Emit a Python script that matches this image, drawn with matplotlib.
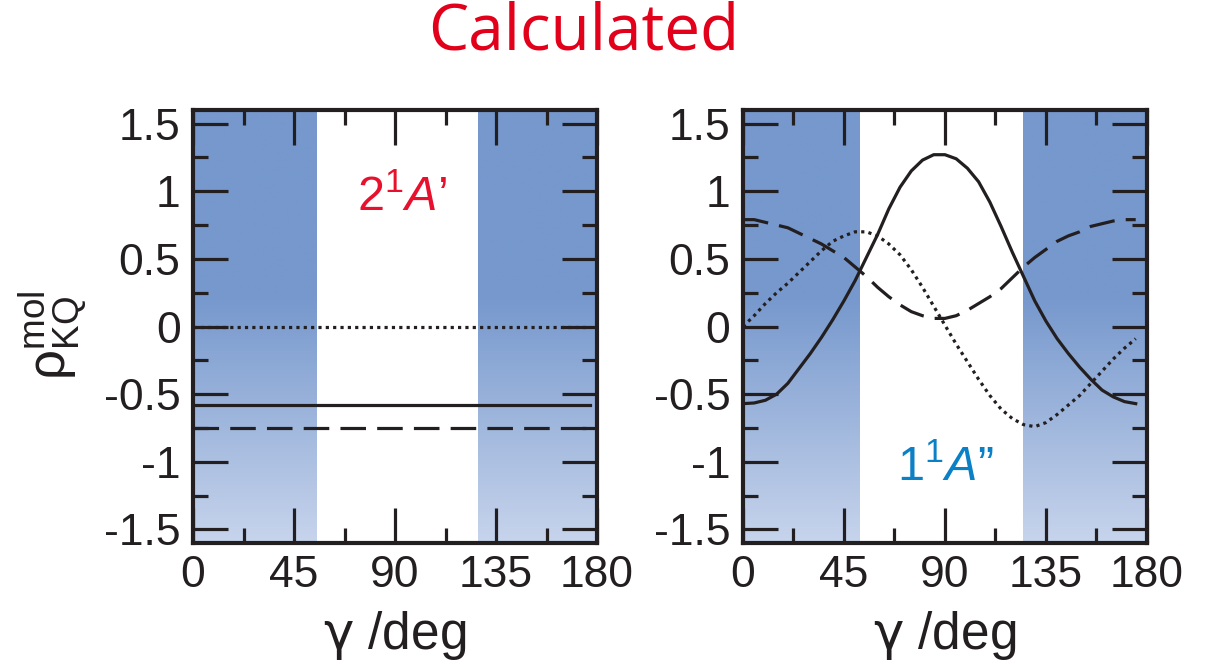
import matplotlib.pyplot as plt
import numpy as np
from matplotlib.colors import LinearSegmentedColormap
from matplotlib.ticker import MultipleLocator

plt.rcParams['font.family'] = ['Liberation Sans', 'DejaVu Sans']
plt.rcParams['axes.unicode_minus'] = False
plt.rcParams['mathtext.fontset'] = 'custom'
plt.rcParams['mathtext.rm'] = 'Liberation Sans'
plt.rcParams['mathtext.it'] = 'Liberation Sans:italic'
plt.rcParams['mathtext.sf'] = 'DejaVu Sans'
plt.rcParams['mathtext.default'] = 'regular'

#%% data
# right panel (1^1A''), gamma in deg
gamma = [0, 5, 10, 15, 20, 25, 30, 35, 40, 45, 50, 55, 60, 65, 70, 75, 80, 85, 90,
         95, 100, 105, 110, 115, 120, 125, 130, 135, 140, 145, 150, 155, 160, 165, 170, 175]
solid_r = [-0.57, -0.565, -0.545, -0.50, -0.42, -0.31, -0.20, -0.08, 0.05, 0.19, 0.34, 0.51,
           0.68, 0.87, 1.03, 1.15, 1.23, 1.27, 1.27, 1.24, 1.17, 1.07, 0.92, 0.74, 0.55,
           0.37, 0.19, 0.04, -0.09, -0.20, -0.30, -0.39, -0.47, -0.52, -0.555, -0.57]
dashed_r = [0.79, 0.79, 0.77, 0.75, 0.73, 0.69, 0.65, 0.61, 0.56, 0.51, 0.44, 0.37, 0.29,
            0.22, 0.16, 0.11, 0.08, 0.06, 0.06, 0.08, 0.12, 0.17, 0.22, 0.28, 0.36, 0.44,
            0.51, 0.57, 0.63, 0.67, 0.70, 0.74, 0.76, 0.78, 0.79, 0.79]
dotted_r = [0.0, 0.08, 0.17, 0.25, 0.32, 0.40, 0.48, 0.56, 0.63, 0.67, 0.70, 0.70, 0.67,
            0.61, 0.53, 0.42, 0.29, 0.15, 0.01, -0.13, -0.26, -0.39, -0.51, -0.61, -0.68,
            -0.725, -0.74, -0.71, -0.65, -0.58, -0.51, -0.42, -0.33, -0.24, -0.16, -0.09]

# left panel (2^1A'), flat lines
gamma_l = [0, 177]
solid_l = [-0.58, -0.58]
dashed_l = [-0.75, -0.75]
dotted_l = [0.0, 0.0]

shade_l = [(0, 55), (127, 180)]
shade_r = [(0, 52), (125, 180)]

xticks = [0, 45, 90, 135, 180]
yticks = [-1.5, -1, -0.5, 0, 0.5, 1, 1.5]
yticklabels = ['-1.5', '-1', '-0.5', '0', '0.5', '1', '1.5']

#%%
fig = plt.figure(figsize=(12.11, 6.63), dpi=100)
ax1 = fig.add_axes([0.1594, 0.181, 0.3336, 0.653])
ax2 = fig.add_axes([0.6135, 0.181, 0.3336, 0.653])

cmap = LinearSegmentedColormap.from_list(
    'shade', [(0.0, '#C7D4EC'), (0.57, '#7698CD'), (1.0, '#7698CD')])
grad = np.linspace(0, 1, 256).reshape(-1, 1)

lc = '#231f20'
for ax, shades in [(ax1, shade_l), (ax2, shade_r)]:
    for x0, x1 in shades:
        ax.imshow(grad, extent=(x0, x1, -1.6, 1.6), origin='lower', aspect='auto',
                  cmap=cmap, zorder=0, interpolation='bilinear')
    ax.set_xlim(0, 180)
    ax.set_ylim(-1.6, 1.6)
    ax.set_xticks(xticks)
    ax.set_xticklabels([str(t) for t in xticks])
    ax.set_yticks(yticks)
    ax.set_yticklabels(yticklabels)
    ax.xaxis.set_minor_locator(MultipleLocator(22.5))
    ax.yaxis.set_minor_locator(MultipleLocator(0.25))
    ax.tick_params(which='major', direction='in', length=25, width=2.3,
                   top=True, right=True, labelsize=32, pad=9, color=lc, labelcolor=lc)
    ax.tick_params(which='minor', direction='in', length=11, width=2.3,
                   top=True, right=True, color=lc)
    for sp in ax.spines.values():
        sp.set_linewidth(3)
        sp.set_color(lc)
    ax.set_xlabel(r'$\mathsf{\gamma}$ /deg', fontsize=37, labelpad=9, color=lc)

ax1.plot(gamma_l, solid_l, c=lc, lw=2.3)
ax1.plot(gamma_l, dashed_l, c=lc, lw=2.3, ls=(0, (8, 3.5)))
ax1.plot(gamma_l, dotted_l, c=lc, lw=2.3, ls=(0, (1, 1.3)))

ax2.plot(gamma, solid_r, c=lc, lw=2.3)
ax2.plot(gamma, dashed_r, c=lc, lw=2.3, ls=(0, (8, 3.5)))
ax2.plot(gamma, dotted_r, c=lc, lw=2.3, ls=(0, (1, 1.3)))

ax1.text(93, 0.95, r"$2^1\mathit{A’}$", color='#e8112d', fontsize=35,
         ha='center', va='center')
ax2.text(90, -1.05, r"$1^1\mathit{A”}$", color='#0a80c6', fontsize=35,
         ha='center', va='center')

fig.text(52 / 1211, 1 - 335 / 663, r'$\rho^{mol}_{KQ}$', rotation=90, fontsize=38,
         ha='center', va='center', color=lc)
fig.text(584 / 1211, 1 - 33 / 663, 'Calculated', color='#e2001a', fontsize=46,
         family=['Open Sans', 'DejaVu Sans'], ha='center', va='center')

fig.savefig('out.png', dpi=100)
